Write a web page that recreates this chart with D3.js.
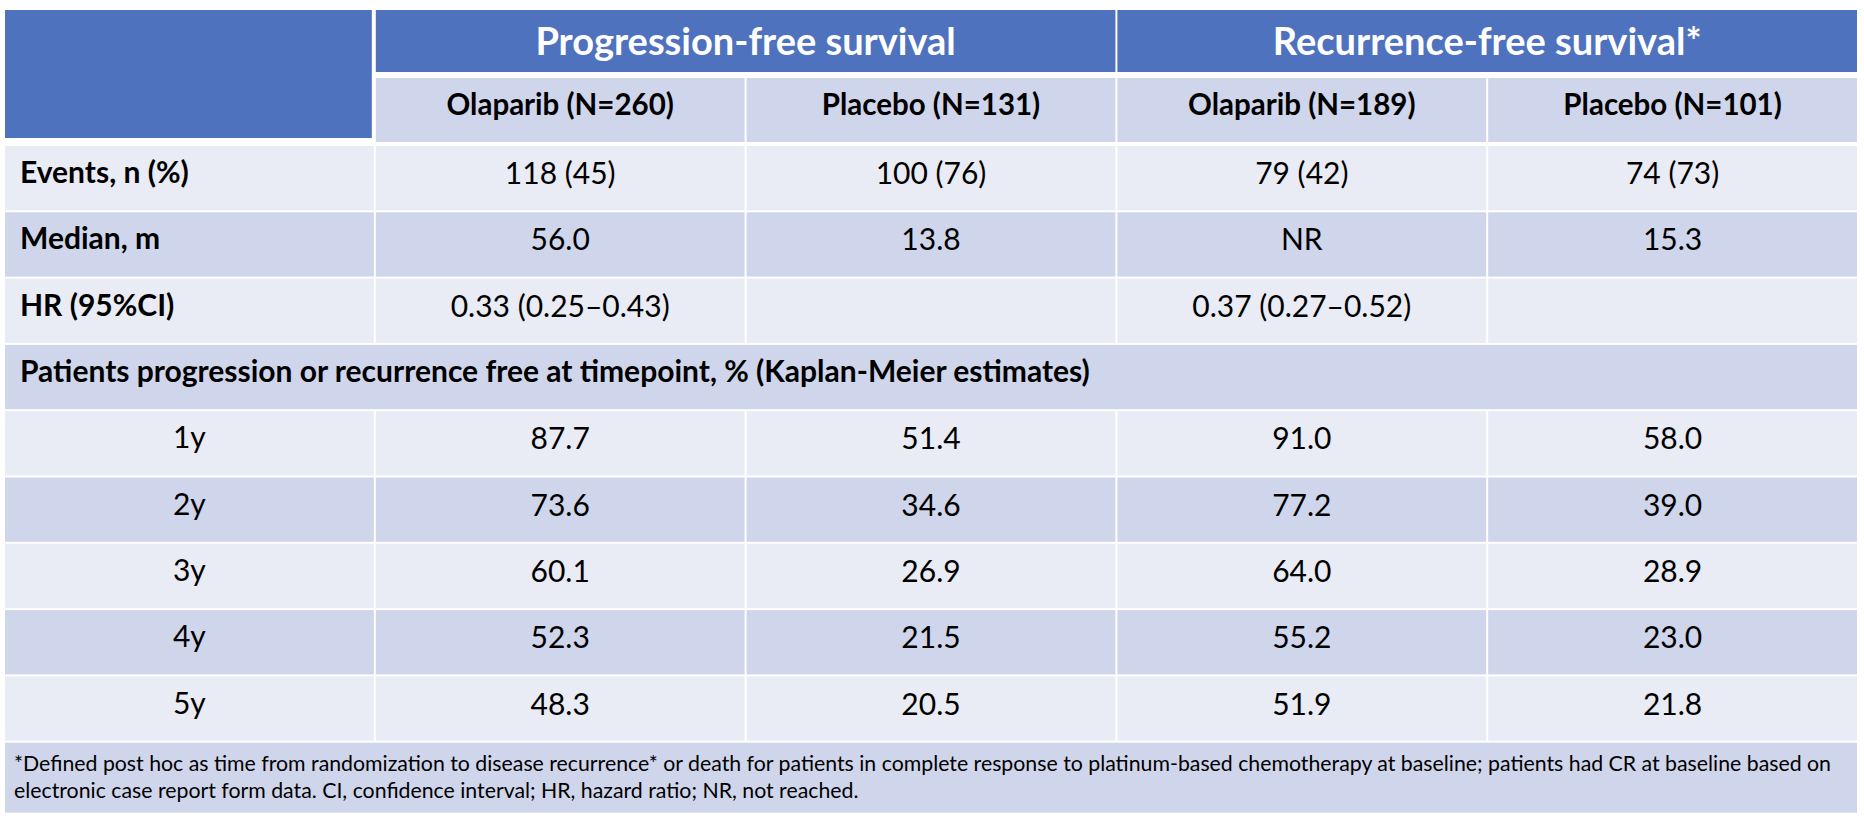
<!DOCTYPE html>
<html>
<head>
<meta charset="utf-8">
<script src="https://cdn.jsdelivr.net/npm/d3@7"></script>
<style>
  body { margin: 0; background: #fff; }
  svg { display: block; font-family: Lato, "Open Sans", sans-serif; }
</style>
</head>
<body>
<script>
  var groupHeads = ["Progression-free survival", "Recurrence-free survival*"];
  var colHeads = ["Olaparib (N=260)", "Placebo (N=131)", "Olaparib (N=189)", "Placebo (N=101)"];
  var rowLabels = ["Events, n (%)", "Median, m", "HR (95%CI)"];
  var events = ["118 (45)", "100 (76)", "79 (42)", "74 (73)"];
  var medians = ["56.0", "13.8", "NR", "15.3"];
  var hazards = ["0.33 (0.25\u20130.43)", "", "0.37 (0.27\u20130.52)", ""];
  var sectionLabel = "Patients progression or recurrence free at timepoint, % (Kaplan-Meier estimates)";
  var timepoints = ["1y", "2y", "3y", "4y", "5y"];
  var pfsOlaparib = [87.7, 73.6, 60.1, 52.3, 48.3];
  var pfsPlacebo = [51.4, 34.6, 26.9, 21.5, 20.5];
  var rfsOlaparib = [91.0, 77.2, 64.0, 55.2, 51.9];
  var rfsPlacebo = [58.0, 39.0, 28.9, 23.0, 21.8];
  var footnote = [
    "*Defined post hoc as time from randomization to disease recurrence* or death for patients in complete response to platinum-based chemotherapy at baseline; patients had CR at baseline based on",
    "electronic case report form data. CI, confidence interval; HR, hazard ratio; NR, not reached."
  ];

  var W = 1864, H = 816;
  var blue = "#4e72be", dark = "#cfd5ea", light = "#e9ebf5";

  var svg = d3.select("body").append("svg")
      .attr("width", W)
      .attr("height", H);

  // column edges and row tops
  var x = d3.scaleLinear().domain([0, 5]).range([4, 1858]);
  var y = d3.scaleLinear().domain([0, 9]).range([145, 741.7]);
  var rowH = y(1) - y(0);

  // build body rows
  var fmt = d3.format(".1f");
  var rows = [];
  rowLabels.forEach(function (l, i) {
    rows.push({label: l, kind: "label", cells: [events, medians, hazards][i]});
  });
  rows.push({label: sectionLabel, kind: "section", cells: null});
  timepoints.forEach(function (t, i) {
    rows.push({label: t, kind: "time",
      cells: [pfsOlaparib[i], pfsPlacebo[i], rfsOlaparib[i], rfsPlacebo[i]].map(fmt)});
  });

  // header row 1
  svg.append("rect")
      .attr("x", x(0) + 1).attr("y", 10)
      .attr("width", x(1) - x(0) - 4).attr("height", 128)
      .attr("fill", blue);

  groupHeads.forEach(function (g, i) {
    var x0 = x(1 + i * 2), x1 = x(3 + i * 2);
    svg.append("rect")
        .attr("x", x0 + 1).attr("y", 10)
        .attr("width", x1 - x0 - 2).attr("height", 62)
        .attr("fill", blue);
    svg.append("text")
        .attr("x", (x0 + x1) / 2).attr("y", 55)
        .attr("text-anchor", "middle")
        .attr("fill", "#fff")
        .style("font-size", "38px").style("font-weight", "bold")
        .text(g);
  });

  // header row 2
  colHeads.forEach(function (c, i) {
    svg.append("rect")
        .attr("x", x(i + 1) + 1).attr("y", 78)
        .attr("width", x(i + 2) - x(i + 1) - 2).attr("height", 64)
        .attr("fill", dark);
    svg.append("text")
        .attr("x", (x(i + 1) + x(i + 2)) / 2).attr("y", 115)
        .attr("text-anchor", "middle")
        .attr("fill", "#000")
        .style("font-size", "29.5px").style("font-weight", "bold")
        .text(c);
  });

  // body
  rows.forEach(function (r, i) {
    var top = y(i) + 1, h = rowH - 2, mid = y(i) + rowH / 2;
    var fill = i % 2 === 0 ? light : dark;
    var g = svg.append("g");

    if (r.kind === "section") {
      g.append("rect")
          .attr("x", x(0) + 1).attr("y", top)
          .attr("width", x(5) - x(0) - 2).attr("height", h)
          .attr("fill", fill);
    } else {
      d3.range(5).forEach(function (c) {
        g.append("rect")
            .attr("x", x(c) + 1).attr("y", top)
            .attr("width", x(c + 1) - x(c) - 2).attr("height", h)
            .attr("fill", fill);
      });
    }

    var lab = g.append("text")
        .attr("y", mid + 5)
        .attr("fill", "#000")
        .style("font-size", "30px")
        .text(r.label);
    if (r.kind === "time") {
      lab.attr("x", (x(0) + x(1)) / 2).attr("text-anchor", "middle");
    } else {
      lab.attr("x", 20).style("font-weight", "bold");
    }

    if (r.cells) {
      r.cells.forEach(function (v, c) {
        g.append("text")
            .attr("x", (x(c + 1) + x(c + 2)) / 2).attr("y", mid + 6)
            .attr("text-anchor", "middle")
            .attr("fill", "#000")
            .style("font-size", "30px")
            .text(v);
      });
    }
  });

  // footnote
  var fTop = y(9) + 1;
  svg.append("rect")
      .attr("x", x(0) + 1).attr("y", fTop)
      .attr("width", x(5) - x(0) - 2).attr("height", 70)
      .attr("fill", dark);

  svg.selectAll(".foot")
    .data(footnote)
    .enter().append("text")
      .attr("class", "foot")
      .attr("x", 14)
      .attr("y", function (d, i) { return fTop + 28 + i * 27; })
      .attr("fill", "#000")
      .style("font-size", "21px")
      .text(function (d) { return d; });

  // squeeze the footnote to the original's line width
  var full = svg.select(".foot").node().getComputedTextLength();
  var scale = 1817 / full;
  svg.selectAll(".foot").each(function () {
    var w = this.getComputedTextLength();
    d3.select(this).attr("textLength", w * scale).attr("lengthAdjust", "spacingAndGlyphs");
  });
</script>
</body>
</html>
